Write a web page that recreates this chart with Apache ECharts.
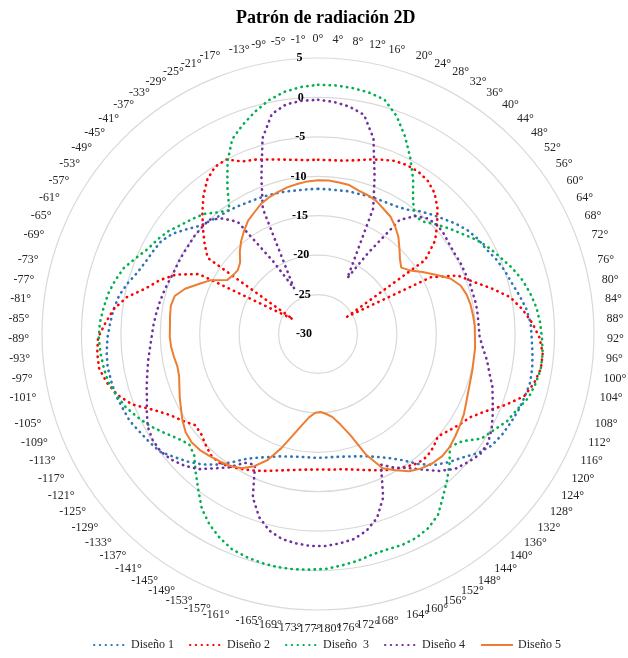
<!DOCTYPE html>
<html><head><meta charset="utf-8">
<script src="https://cdn.jsdelivr.net/npm/echarts@6/dist/echarts.min.js"></script>
<style>html,body{margin:0;padding:0;background:#fff}#c{width:628px;height:658px}</style>
</head><body><div id="c"></div>
<script>
const angleLabels = ["0°","4°","8°","12°","16°","20°","24°","28°","32°","36°","40°","44°","48°","52°","56°","60°","64°","68°","72°","76°","80°","84°","88°","92°","96°","100°","104°","108°","112°","116°","120°","124°","128°","132°","136°","140°","144°","148°","152°","156°","160°","164°","168°","172°","176°","-180°","-177°","-173°","-169°","-165°","-161°","-157°","-153°","-149°","-145°","-141°","-137°","-133°","-129°","-125°","-121°","-117°","-113°","-109°","-105°","-101°","-97°","-93°","-89°","-85°","-81°","-77°","-73°","-69°","-65°","-61°","-57°","-53°","-49°","-45°","-41°","-37°","-33°","-29°","-25°","-21°","-17°","-13°","-9°","-5°","-1°"];

const seriesNames = ["Diseño 1","Diseño 2","Diseño  3","Diseño 4","Diseño 5"];

const diseno1 = [-11.6,-11.6,-11.6,-11.5,-11.5,-11.4,-11.3,-11.2,-11.0,-10.6,-9.8,
 -9.1,-8.4,-7.6,-6.9,-6.4,-6.1,-5.5,-5.0,-4.6,-4.0,
 -3.4,-3.0,-2.9,-2.7,-2.5,-2.4,-2.6,-2.8,-3.1,-3.4,
 -3.8,-4.7,-5.9,-6.8,-7.8,-9.2,-10.8,-11.9,-12.7,-13.3,
 -13.7,-14.0,-14.2,-14.3,-14.3,-14.3,-14.3,-14.2,-14.0,-13.7,
 -13.2,-12.6,-11.8,-10.5,-9.1,-7.9,-6.9,-6.0,-5.0,-4.6,
 -4.2,-3.7,-3.5,-3.2,-3.1,-3.0,-3.1,-3.3,-3.6,-3.9,
 -4.3,-5.0,-5.8,-6.3,-6.6,-6.9,-7.6,-8.7,-9.7,-10.2,
 -10.5,-10.7,-10.9,-11.1,-11.2,-11.3,-11.4,-11.5,-11.6,-11.6];

const diseno2 = [-7.9,-7.9,-7.8,-7.5,-7.0,-6.5,-6.0,-5.8,-5.8,-6.1,-6.8,
 -8.0,-9.5,-11.0,-13.5,-25.7,-14.0,-10.8,-9.3,-7.3,-5.2,
 -3.9,-2.8,-1.9,-1.4,-1.4,-1.9,-2.7,-4.6,-6.6,-8.0,
 -8.7,-9.4,-10.0,-9.5,-9.2,-9.3,-9.8,-10.3,-10.8,-11.4,
 -11.9,-12.3,-12.6,-12.7,-12.8,-12.8,-12.7,-12.5,-12.2,-11.8,
 -11.3,-10.8,-10.3,-9.8,-9.4,-9.5,-10.0,-10.5,-10.6,-9.6,
 -8.6,-7.0,-4.8,-3.4,-2.5,-1.9,-1.9,-2.1,-3.0,-3.9,
 -5.3,-7.4,-8.8,-10.5,-13.1,-26.3,-13.0,-11.6,-10.2,-8.7,
 -7.2,-5.9,-5.1,-5.0,-6.1,-6.5,-7.0,-7.4,-7.7,-7.9];

const diseno3 = [1.6,1.6,1.5,1.3,0.9,-0.6,-2.6,-4.8,-7.0,-9.3,-10.7,
 -10.4,-9.5,-8.6,-7.7,-6.6,-5.7,-4.9,-4.0,-3.2,-2.6,
 -2.1,-1.8,-1.6,-1.4,-1.4,-1.7,-2.1,-3.0,-3.6,-4.6,
 -5.4,-7.2,-8.0,-6.6,-5.3,-4.0,-2.5,-1.7,-1.3,-1.2,
 -1.3,-1.2,-0.8,-0.5,-0.2,-0.1,0.0,0.0,-0.1,-0.3,
 -0.6,-1.3,-2.2,-3.4,-5.1,-6.6,-8.0,-8.5,-7.8,-6.8,
 -5.7,-4.8,-3.9,-3.3,-2.7,-2.5,-2.3,-2.2,-2.3,-2.6,
 -2.9,-3.4,-4.0,-5.0,-5.9,-6.4,-7.0,-7.8,-8.4,-9.0,
 -10.0,-10.7,-8.1,-5.3,-3.0,-1.8,-0.7,0.3,1.0,1.4];

const diseno4 = [-0.3,-0.5,-0.9,-1.6,-4.2,-8.8,-12.6,-22.0,-18.0,-12.2,-10.6,
 -9.8,-9.5,-9.6,-9.8,-9.9,-9.8,-9.8,-9.7,-9.7,-9.6,
 -9.6,-9.6,-9.5,-9.0,-8.3,-7.7,-6.9,-6.3,-5.6,-4.9,
 -4.4,-4.4,-5.0,-5.6,-6.8,-8.3,-9.6,-10.5,-11.6,-7.7,
 -5.5,-4.3,-3.6,-3.3,-3.1,-3.1,-3.3,-3.6,-4.3,-5.6,
 -7.7,-11.6,-11.2,-9.7,-8.5,-7.1,-6.2,-5.5,-5.1,-5.1,
 -5.4,-6.1,-6.8,-7.3,-7.8,-8.2,-8.6,-8.9,-9.1,-9.3,
 -9.5,-9.7,-9.9,-10.1,-10.1,-10.1,-10.1,-10.0,-10.0,-10.0,
 -11.0,-12.5,-19.2,-23.5,-12.6,-8.8,-4.2,-1.5,-0.6,-0.35];

const diseno5 = [-10.5,-10.5,-10.6,-10.7,-11.1,-11.3,-11.6,-12.1,-12.5,-13.2,-14.0,
 -15.0,-15.9,-16.5,-15.8,-14.6,-13.3,-11.8,-10.9,-10.5,-10.3,
 -10.2,-10.1,-10.1,-10.0,-10.0,-9.9,-9.8,-9.6,-9.3,-8.9,
 -8.6,-8.3,-8.0,-7.9,-8.1,-8.5,-9.1,-10.1,-11.1,-13.5,
 -16.5,-18.2,-19.3,-19.8,-20.1,-20.0,-19.4,-18.3,-16.8,-14.8,
 -12.8,-11.4,-10.4,-9.9,-9.6,-9.3,-9.0,-8.9,-9.1,-9.6,
 -10.2,-10.7,-11.2,-11.6,-11.7,-11.5,-11.3,-11.2,-11.2,-11.1,
 -11.0,-11.2,-12.2,-13.6,-14.8,-16.6,-16.9,-17.0,-16.6,-15.6,
 -14.7,-13.9,-13.1,-12.6,-12.0,-11.6,-11.3,-11.0,-10.8,-10.6];

const radiusMin = -30, radiusMax = 5, radiusStep = 5;

const colors = ['#2E75B6', '#FF0000', '#00B050', '#7030A0', '#ED7D31'];
const allData = [diseno1, diseno2, diseno3, diseno4, diseno5];

function toPts(arr) {
  const pts = arr.map((v, i) => [v, i]);
  pts.push([arr[0], 0]);
  return pts;
}

const serif = 'Liberation Serif, Times New Roman, serif';
const n = angleLabels.length;

const series = allData.map((arr, k) => {
  const dotted = k < 4;
  return {
    name: seriesNames[k],
    type: 'line',
    coordinateSystem: 'polar',
    data: toPts(arr),
    symbol: 'none',
    smooth: false,
    animation: false,
    z: 2 + k,
    itemStyle: { color: colors[k] },
    lineStyle: dotted
      ? { color: colors[k], width: 2.6, type: [0.4, 5.4], cap: 'round' }
      : { color: colors[k], width: 2, type: 'solid' }
  };
});

const chart = echarts.init(document.getElementById('c'), null, { renderer: 'canvas' });
chart.setOption({
  backgroundColor: '#ffffff',
  animation: false,
  title: {
    text: 'Patrón de radiación 2D',
    left: 231,
    top: 4,
    textStyle: { fontFamily: serif, fontWeight: 'bold', fontSize: 18, color: '#000' }
  },
  legend: {
    bottom: 2,
    left: 88,
    itemWidth: 32,
    itemHeight: 10,
    itemGap: 15,
    data: seriesNames,
    itemStyle: { opacity: 0 },
    textStyle: { fontFamily: serif, fontSize: 12, color: '#262626' }
  },
  polar: { center: [318, 334], radius: 276 },
  angleAxis: {
    type: 'category',
    data: angleLabels,
    startAngle: 90 + 180 / n,
    clockwise: true,
    axisLine: { show: false },
    axisTick: { show: false },
    splitLine: { show: false },
    splitArea: { show: false },
    axisLabel: { interval: 0, margin: 13, fontFamily: serif, fontSize: 12, color: '#262626' }
  },
  radiusAxis: {
    type: 'value',
    min: radiusMin,
    max: radiusMax,
    interval: radiusStep,
    axisLine: { show: false },
    axisTick: { show: false },
    splitLine: { show: true, lineStyle: { color: '#d9d9d9', width: 1.2 } },
    axisLabel: { fontFamily: serif, fontWeight: 'bold', fontSize: 12, color: '#000', margin: 6 }
  },
  series: series
});
</script>
</body></html>
